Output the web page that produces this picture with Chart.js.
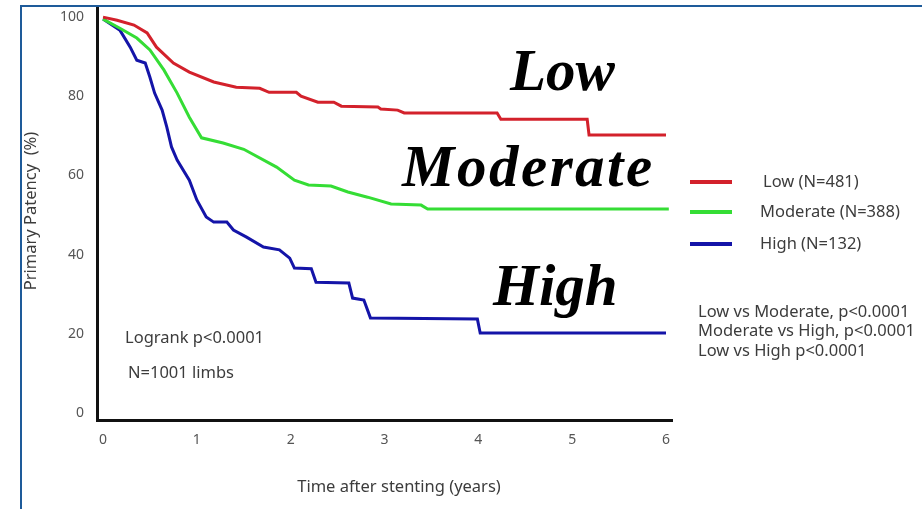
<!DOCTYPE html>
<html lang="en">
<head>
    <meta charset="UTF-8">
    <title>Primary patency by risk group</title>
    <style>
        body {
            margin: 0;
            padding: 0;
            background: #ffffff;
            overflow: hidden;
        }
        .wrap {
            position: relative;
            width: 922px;
            height: 509px;
        }
        .frame {
            position: absolute;
            left: 20px;
            top: 5px;
            width: 1000px;
            height: 600px;
            border: 2px solid #1e5b9a;
        }
        canvas {
            position: absolute;
            left: 0;
            top: 0;
        }
    </style>
    <script src="https://cdn.jsdelivr.net/npm/chart.js"></script>
</head>
<body>
    <div class="wrap">
        <div class="frame"></div>
        <canvas id="km" width="922" height="509"></canvas>
    </div>

    <script>
        // time (years) / primary patency (%)
        const lowT  = [0, 0.15, 0.33, 0.47, 0.57, 0.75, 0.92, 1.18, 1.42, 1.67, 1.77, 2.06, 2.11, 2.29, 2.46, 2.54, 2.93, 2.96, 3.14, 3.21, 4.2, 4.24, 5.16, 5.18, 6.0];
        const lowS  = [100, 99.2, 98, 96, 92.4, 88.4, 86.1, 83.6, 82.3, 82, 81, 81, 80, 78.5, 78.5, 77.5, 77.3, 76.8, 76.5, 75.8, 75.8, 74.2, 74.2, 70.2, 70.2];

        const modT  = [0, 0.18, 0.36, 0.5, 0.65, 0.79, 0.92, 1.05, 1.28, 1.5, 1.85, 2.04, 2.19, 2.43, 2.61, 2.82, 3.07, 3.39, 3.46, 6.03];
        const modS  = [99.5, 97.2, 94.7, 91.7, 86.6, 80.8, 74.7, 69.5, 68.2, 66.6, 62.1, 58.8, 57.6, 57.3, 55.8, 54.5, 52.8, 52.5, 51.5, 51.5];

        const highT = [0, 0.18, 0.29, 0.36, 0.45, 0.5, 0.55, 0.63, 0.68, 0.73, 0.79, 0.92, 1.0, 1.1, 1.18, 1.32, 1.39, 1.53, 1.71, 1.88, 1.99, 2.04, 2.22, 2.27, 2.62, 2.66, 2.78, 2.85, 3.99, 4.02, 6.0];
        const highS = [99.5, 96.7, 92.4, 89.1, 88.4, 84.8, 80.8, 76.5, 72.2, 67.2, 63.9, 58.8, 53.8, 49.5, 48.2, 48.2, 46.2, 44.4, 41.9, 41.2, 39.1, 36.6, 36.4, 33, 32.8, 29, 28.5, 24, 23.7, 20.2, 20.2];

        const xTicks = [0, 1, 2, 3, 4, 5, 6];
        const yTicks = [0, 20, 40, 60, 80, 100];

        const groupNames  = ['Low', 'Moderate', 'High'];
        const legendTexts = ['Low (N=481)', 'Moderate (N=388)', 'High (N=132)'];
        const groupColors = ['#d3212b', '#35dd35', '#1414a8'];
        const statsLines  = ['Low vs Moderate, p<0.0001', 'Moderate vs High, p<0.0001', 'Low vs High p<0.0001'];

        const toPoints = (ts, ss) => ts.map((t, i) => ({ x: t, y: ss[i] }));

        const textColor = '#3c3c3c';
        const sans = '"Noto Sans", sans-serif';

        // 文字、图例和曲线标签
        const overlayPlugin = {
            id: 'overlay',
            afterDraw(chart) {
                const ctx = chart.ctx;
                ctx.save();

                // axis titles
                ctx.fillStyle = textColor;
                ctx.font = '16.5px ' + sans;
                ctx.textAlign = 'center';
                ctx.textBaseline = 'middle';
                ctx.fillText('Time after stenting (years)', 399, 487);
                ctx.save();
                ctx.translate(31, 211);
                ctx.rotate(-Math.PI / 2);
                ctx.fillText('Primary Patency  (%)', 0, 0);
                ctx.restore();

                // logrank notes
                ctx.textAlign = 'left';
                ctx.font = '16.5px ' + sans;
                ctx.fillText('Logrank p<0.0001', 125, 338);
                ctx.fillText('N=1001 limbs', 128, 373);

                // legend
                const legendY = [182, 212, 244];
                legendTexts.forEach((txt, i) => {
                    ctx.strokeStyle = groupColors[i];
                    ctx.lineWidth = 4;
                    ctx.beginPath();
                    ctx.moveTo(690, legendY[i]);
                    ctx.lineTo(732, legendY[i]);
                    ctx.stroke();
                    ctx.fillStyle = textColor;
                    ctx.fillText(txt, i === 0 ? 763 : 760, legendY[i]);
                });

                // pairwise comparisons
                statsLines.forEach((txt, i) => {
                    ctx.fillText(txt, 698, 312 + i * 19.5);
                });

                // big curve labels
                ctx.fillStyle = '#000';
                ctx.textBaseline = 'alphabetic';
                ctx.font = 'italic bold 59px "Liberation Serif", serif';
                ctx.fillText(groupNames[0], 510, 90);
                ctx.letterSpacing = '2.5px';
                ctx.fillText(groupNames[1], 402, 186);
                ctx.letterSpacing = '0px';
                ctx.fillText(groupNames[2], 493, 305);

                ctx.restore();
            }
        };

        new Chart(document.getElementById('km'), {
            type: 'line',
            data: {
                datasets: [
                    { label: legendTexts[0], data: toPoints(lowT, lowS), borderColor: groupColors[0] },
                    { label: legendTexts[1], data: toPoints(modT, modS), borderColor: groupColors[1] },
                    { label: legendTexts[2], data: toPoints(highT, highS), borderColor: groupColors[2] }
                ]
            },
            options: {
                responsive: false,
                animation: false,
                devicePixelRatio: 1,
                layout: {
                    padding: { left: 20, right: 250, top: 8, bottom: 0 }
                },
                elements: {
                    line: { borderWidth: 3, tension: 0, fill: false },
                    point: { radius: 0 }
                },
                plugins: {
                    legend: { display: false },
                    tooltip: { enabled: false }
                },
                scales: {
                    x: {
                        type: 'linear',
                        min: -0.064,
                        max: 6.064,
                        afterFit(scale) {
                            scale.height = 89;
                            scale.paddingLeft = 0;
                            scale.paddingRight = 0;
                        },
                        afterBuildTicks(scale) { scale.ticks = xTicks.map(v => ({ value: v })); },
                        grid: { display: false, drawTicks: false },
                        border: { display: true, color: '#111', width: 3 },
                        ticks: {
                            padding: 12,
                            color: '#555',
                            font: { family: 'Noto Sans', size: 14 }
                        }
                    },
                    y: {
                        type: 'linear',
                        min: -1.8,
                        max: 102.3,
                        afterFit(scale) {
                            scale.width = 77;
                            scale.paddingTop = 0;
                            scale.paddingBottom = 0;
                        },
                        afterBuildTicks(scale) { scale.ticks = yTicks.map(v => ({ value: v })); },
                        grid: { display: false, drawTicks: false },
                        border: { display: true, color: '#111', width: 3 },
                        ticks: {
                            padding: 13,
                            color: '#555',
                            font: { family: 'Noto Sans', size: 14 }
                        }
                    }
                }
            },
            plugins: [overlayPlugin]
        });
    </script>
</body>
</html>
